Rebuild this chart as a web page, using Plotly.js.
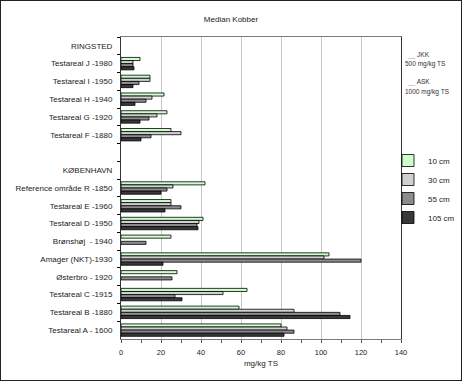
<!DOCTYPE html>
<html>
<head>
<meta charset="utf-8">
<script src="https://cdn.plot.ly/plotly-3.0.1.min.js"></script>
<style>
  html, body { margin: 0; padding: 0; background: #fff; overflow: hidden; }
  #frame { width: 460px; height: 379px; border: 1px solid #222; overflow: hidden; }
  #chart { width: 480px; height: 379px; }
</style>
</head>
<body>
<div id="frame"><div id="chart"></div></div>
<script>
// Categories (top to bottom); blank rows are group headings
var categories = ['RINGSTED', 'Testareal J -1980', 'Testareal I -1950', 'Testareal H -1940',
  'Testareal G -1920', 'Testareal F -1880', ' ', 'KØBENHAVN', 'Reference område R -1850',
  'Testareal E -1960', 'Testareal D -1950', 'Brønshøj  - 1940', 'Amager (NKT)-1930',
  'Østerbro - 1920', 'Testareal C -1915', 'Testareal B -1880', 'Testareal A - 1600'];

var seriesNames = ['10 cm', '30 cm', '55 cm', '105 cm'];

var cm10  = [null, 9.5, 14.5, 21.5, 23, 25, null, null, 42, 25, 41, 25, 104, 28, 63, 59, 80];
var cm30  = [null, 6, 14.5, 15.5, 18, 30, null, null, 26, 25, 39, null, 101.5, null, 51, 86.5, 83];
var cm55  = [null, 6, 9, 12.5, 14, 15, null, null, 23, 30, 38, 12.5, 120, 25.5, 27, 109.5, 86.5];
var cm105 = [null, 6.5, 6, 7, 9.5, 10, null, null, 20, 22, 38.5, null, 21, null, 30.5, 114.5, 81.5];

var xTickVals = [0, 20, 40, 60, 80, 100, 120, 140];

var refLabels = ['JKK', '500 mg/kg TS', 'ASK', '1000 mg/kg TS'];

var values = [cm10, cm30, cm55, cm105];
var fills = ['#ccffcc', '#d0d0d0', '#8c8c8c', '#383838'];

var FONT = 'Liberation Sans, Arial, sans-serif';

var traces = values.map(function (v, i) {
  return {
    type: 'bar',
    orientation: 'h',
    name: seriesNames[i],
    y: categories,
    x: v,
    marker: { color: fills[i], line: { color: '#000', width: 0.8 } },
    hoverinfo: 'x+y+name'
  };
});

// visible frame is 460 wide; layout is a bit wider so the legend never squeezes the plot
var W = 480, VIS = 460, H = 379, L = 120, R = 80, T = 36, B = 41;
var pw = W - L - R, ph = H - T - B;
function px(x) { return (x - 1 - L) / pw; }
function py(y) { return (H - B - (y - 1)) / ph; }

var layout = {
  width: W, height: H,
  margin: { l: L, r: R, t: T, b: B, pad: 0 },
  paper_bgcolor: '#fff', plot_bgcolor: '#fff',
  font: { family: FONT, size: 8, color: '#222' },
  title: {
    text: 'Median Kobber', xref: 'container', x: (VIS / 2) / W, xanchor: 'center',
    yref: 'container', y: 1 - 18 / H, yanchor: 'middle',
    font: { family: FONT, size: 8, color: '#222' }
  },
  barmode: 'group', bargap: 0.3, bargroupgap: 0,
  showlegend: true,
  legend: {
    x: px(388), xanchor: 'left', y: py(189), yanchor: 'middle',
    traceorder: 'normal', font: { family: FONT, size: 8, color: '#222' },
    bgcolor: 'rgba(0,0,0,0)', borderwidth: 0, itemwidth: 30
  },
  xaxis: {
    range: [0, 140], tickmode: 'array', tickvals: xTickVals,
    showgrid: true, gridcolor: '#c8c8c8', gridwidth: 1, zeroline: false,
    ticks: 'outside', ticklen: 3, tickcolor: '#555',
    minor: { dtick: 10, tick0: 0, ticks: 'outside', ticklen: 3, tickcolor: '#555', showgrid: false },
    showline: true, linecolor: '#7a7a7a', linewidth: 1, mirror: true,
    tickfont: { family: FONT, size: 7.5, color: '#222' },
    ticklabelstandoff: 3,
    title: { text: 'mg/kg TS', font: { family: FONT, size: 8, color: '#222' }, standoff: 4 }
  },
  yaxis: {
    type: 'category', categoryorder: 'array', categoryarray: categories,
    range: [categories.length - 0.5, -0.5],
    tickson: 'boundaries', ticks: 'outside', ticklen: 3, tickcolor: '#000',
    showline: true, linecolor: '#333', linewidth: 1, mirror: true,
    showgrid: false, zeroline: false,
    tickfont: { family: FONT, size: 8, color: '#222' },
    ticklabelstandoff: 6
  },
  annotations: [
    { xref: 'paper', yref: 'paper', x: px(405), y: py(55), xanchor: 'left', yanchor: 'middle',
      text: '<span style="color:#9a9a9a">__</span> ' + refLabels[0], showarrow: false,
      font: { family: FONT, size: 6.5, color: '#333' } },
    { xref: 'paper', yref: 'paper', x: px(403), y: py(64), xanchor: 'left', yanchor: 'middle',
      text: refLabels[1], showarrow: false, font: { family: FONT, size: 6.5, color: '#333' } },
    { xref: 'paper', yref: 'paper', x: px(405), y: py(82), xanchor: 'left', yanchor: 'middle',
      text: '<span style="color:#ff7f7f">__</span> ' + refLabels[2], showarrow: false,
      font: { family: FONT, size: 6.5, color: '#333' } },
    { xref: 'paper', yref: 'paper', x: px(403), y: py(92), xanchor: 'left', yanchor: 'middle',
      text: refLabels[3], showarrow: false, font: { family: FONT, size: 6.5, color: '#333' } }
  ]
};

Plotly.newPlot('chart', traces, layout, { displayModeBar: false, staticPlot: true });
</script>
</body>
</html>
